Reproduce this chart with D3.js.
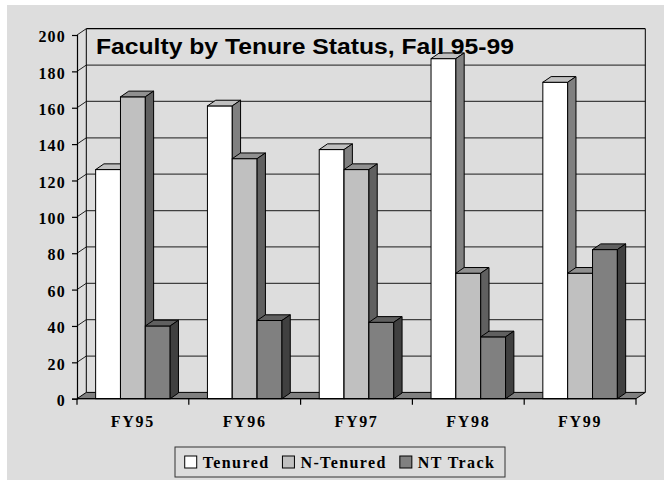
<!DOCTYPE html>
<html>
<head>
<meta charset="utf-8">
<script src="https://cdn.jsdelivr.net/npm/d3@7"></script>
<style>
  html, body { margin: 0; padding: 0; background: #ffffff; }
  svg { display: block; }
</style>
</head>
<body>
<svg id="chart" width="664" height="480"></svg>
<script>
// Faculty headcount by tenure status, fall terms
const categories = ["FY95", "FY96", "FY97", "FY98", "FY99"];
const seriesNames = ["Tenured", "N-Tenured", "NT Track"];
const tenured = [126, 161, 137, 187, 174];
const nTenured = [166, 132, 126, 69, 69];
const ntTrack = [40, 43, 42, 34, 82];
const yTicks = [0, 20, 40, 60, 80, 100, 120, 140, 160, 180, 200];
const titleText = "Faculty by Tenure Status, Fall 95-99";

const seriesValues = [tenured, nTenured, ntTrack];
// front face, top face, side face colours per series
const faceColors = [
  ["#ffffff", "#c0c0c0", "#808080"],
  ["#c0c0c0", "#909090", "#606060"],
  ["#808080", "#606060", "#404040"]
];

const svg = d3.select("#chart");
const bg = "#dddddd";
const serif = "'Liberation Serif', 'Times New Roman', serif";

svg.append("rect").attr("x", 7).attr("y", 5).attr("width", 657).attr("height", 475).attr("fill", bg);

const x = d3.scaleBand().domain(categories).range([77, 636]).paddingInner(0).paddingOuter(0);
const xSub = d3.scaleBand().domain(seriesNames).range([0, x.bandwidth()]).paddingInner(0).paddingOuter(0.75);
const y = d3.scaleLinear().domain([0, 200]).range([398.7, 35]);

// depth offsets for the wall/floor box and for the columns
const wdx = 9.3, wdy = -6.3;
const bdx = 8.3, bdy = -5.7;
const x0 = x.range()[0], x1 = x.range()[1];

const box = svg.append("g");

// floor
box.append("path")
  .attr("d", `M${x0},${y(0)}L${x1},${y(0)}L${x1 + wdx},${y(0) + wdy}L${x0 + wdx},${y(0) + wdy}Z`)
  .attr("fill", "#808080").attr("stroke", "#000").attr("stroke-width", 1);

// gridlines on the back and left walls
yTicks.filter(v => v > 0).forEach(v => {
  const yy = y(v);
  box.append("line")
    .attr("x1", x0 + wdx).attr("x2", x1 + wdx)
    .attr("y1", yy + wdy).attr("y2", yy + wdy)
    .attr("stroke", v === 200 ? "#000" : "#404040").attr("stroke-width", 1.2);
  box.append("line")
    .attr("x1", x0).attr("x2", x0 + wdx)
    .attr("y1", yy).attr("y2", yy + wdy)
    .attr("stroke", "#202020").attr("stroke-width", 1);
});

// wall edges
box.append("line").attr("x1", x0 + wdx).attr("x2", x0 + wdx)
  .attr("y1", y(200) + wdy).attr("y2", y(0) + wdy).attr("stroke", "#000").attr("stroke-width", 1);
box.append("line").attr("x1", x1 + wdx).attr("x2", x1 + wdx)
  .attr("y1", y(200) + wdy).attr("y2", y(0) + wdy).attr("stroke", "#000").attr("stroke-width", 1);

// columns, drawn left to right so later faces overlap earlier sides
const bars = svg.append("g");
categories.forEach((c, ci) => {
  seriesNames.forEach((s, si) => {
    const v = seriesValues[si][ci];
    const bx = x(c) + xSub(s);
    const bw = xSub.bandwidth();
    const top = y(v), base = y(0);
    const col = faceColors[si];
    bars.append("rect")
      .attr("x", bx).attr("y", top).attr("width", bw).attr("height", base - top)
      .attr("fill", col[0]).attr("stroke", "#000").attr("stroke-width", 1);
    bars.append("path")
      .attr("d", `M${bx},${top}L${bx + bdx},${top + bdy}L${bx + bw + bdx},${top + bdy}L${bx + bw},${top}Z`)
      .attr("fill", col[1]).attr("stroke", "#000").attr("stroke-width", 1).attr("stroke-linejoin", "round");
    bars.append("path")
      .attr("d", `M${bx + bw},${top}L${bx + bw + bdx},${top + bdy}L${bx + bw + bdx},${base + bdy}L${bx + bw},${base}Z`)
      .attr("fill", col[2]).attr("stroke", "#000").attr("stroke-width", 1).attr("stroke-linejoin", "round");
  });
});

// front floor edge
svg.append("line").attr("x1", x0).attr("x2", x1).attr("y1", y(0)).attr("y2", y(0))
  .attr("stroke", "#000").attr("stroke-width", 1.2);

// value axis
const yAxis = svg.append("g").attr("transform", `translate(${x0},0)`)
  .call(d3.axisLeft(y).tickValues(yTicks).tickSize(5).tickPadding(6).tickFormat(d3.format("d")));
yAxis.select(".domain").attr("stroke", "#000").attr("stroke-width", 1.2);
yAxis.selectAll(".tick line").attr("stroke", "#000").attr("stroke-width", 1.2);
yAxis.selectAll(".tick text")
  .attr("font-family", serif).attr("font-weight", "bold").attr("font-size", 16)
  .attr("letter-spacing", 1.2).attr("fill", "#000").attr("dy", "0.42em");

// category axis: ticks on band boundaries, labels centred in bands
const catAxis = svg.append("g");
const bounds = categories.map(c => x(c)).concat([x1]);
bounds.forEach(b => {
  catAxis.append("line").attr("x1", b).attr("x2", b).attr("y1", y(0)).attr("y2", y(0) + 6)
    .attr("stroke", "#000").attr("stroke-width", 1.2);
});
categories.forEach(c => {
  catAxis.append("text")
    .attr("x", x(c) + x.bandwidth() / 2).attr("y", 427)
    .attr("text-anchor", "middle")
    .attr("font-family", serif).attr("font-weight", "bold").attr("font-size", 16)
    .attr("letter-spacing", 1.7).attr("fill", "#000")
    .text(c);
});

// title, stretched slightly wider than the natural glyph run
svg.append("text")
  .attr("x", 96).attr("y", 53.5)
  .attr("font-family", "'Liberation Sans', Arial, sans-serif").attr("font-weight", "bold")
  .attr("font-size", 22.5).attr("fill", "#000")
  .attr("textLength", 418).attr("lengthAdjust", "spacingAndGlyphs")
  .text(titleText);

// legend
const legend = svg.append("g");
const lgX = 175, lgY = 447, lgW = 330, lgH = 30;
legend.append("rect").attr("x", lgX).attr("y", lgY).attr("width", lgW).attr("height", lgH)
  .attr("fill", bg).attr("stroke", "#333").attr("stroke-width", 1);
const items = legend.append("g");
const itemGap = 13;
let cursor = 0;
seriesNames.forEach((s, si) => {
  const g = items.append("g").attr("transform", `translate(${cursor},0)`);
  g.append("rect").attr("x", 0).attr("y", -6).attr("width", 12).attr("height", 12)
    .attr("fill", faceColors[si][0]).attr("stroke", "#000").attr("stroke-width", 1);
  const t = g.append("text").attr("x", 18).attr("y", 5.5)
    .attr("font-family", serif).attr("font-weight", "bold").attr("font-size", 16)
    .attr("letter-spacing", 1.4).attr("fill", "#000").text(s);
  cursor += 18 + t.node().getComputedTextLength() + itemGap;
});
cursor -= itemGap;
items.attr("transform", `translate(${lgX + (lgW - cursor) / 2},${lgY + lgH / 2})`);
</script>
</body>
</html>
